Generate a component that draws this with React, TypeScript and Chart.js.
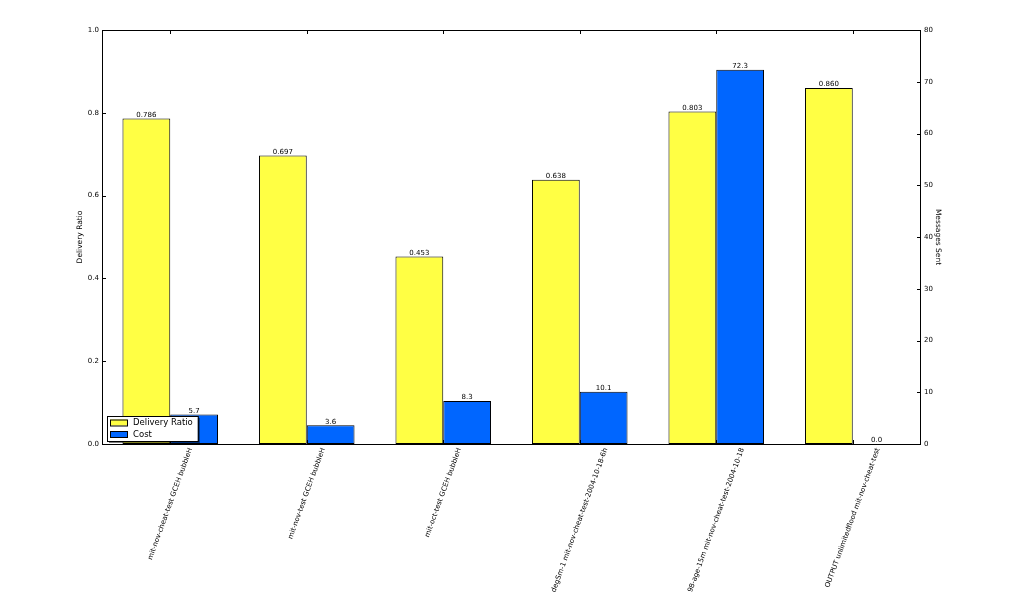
import React, { useEffect, useRef } from "react";
import { Chart, registerables } from "chart.js";

Chart.register(...registerables);

const categories = [
  "mit-nov-cheat-test GCEH bubbleH",
  "mit-nov-test GCEH bubbleH",
  "mit-oct-test GCEH bubbleH",
  "degSm-1 mit-nov-cheat-test-2004-10-18-6h",
  "98-age-15m mit-nov-cheat-test-2004-10-18",
  "OUTPUT unlimitedflood mit-nov-cheat-test",
];
const deliveryRatio = [0.786, 0.697, 0.453, 0.638, 0.803, 0.86];
const cost = [5.7, 3.6, 8.3, 10.1, 72.3, 0.0];
const seriesNames = ["Delivery Ratio", "Cost"];
const seriesColors = ["#ffff44", "#0066ff"];
const leftAxisTitle = "Delivery Ratio";
const rightAxisTitle = "Messages Sent";

const FONT = '"DejaVu Sans", sans-serif';

const decorPlugin = {
  id: "decor",
  afterDatasetsDraw(chart: any) {
    const ctx = chart.ctx;
    ctx.save();
    ctx.fillStyle = "#000";
    ctx.font = `7px ${FONT}`;
    ctx.textAlign = "center";
    ctx.textBaseline = "bottom";
    chart.data.datasets.forEach((ds: any, di: number) => {
      const meta = chart.getDatasetMeta(di);
      meta.data.forEach((el: any, i: number) => {
        const v = ds.data[i];
        const txt = di === 0 ? v.toFixed(3) : v.toFixed(1);
        ctx.fillText(txt, el.x, el.y);
      });
    });
    ctx.restore();
  },
  afterDraw(chart: any) {
    const ctx = chart.ctx;
    const ca = chart.chartArea;
    const xs = chart.scales.x;
    const ys = chart.scales.y;
    const y1 = chart.scales.y1;
    ctx.save();
    // frame
    ctx.strokeStyle = "#000";
    ctx.lineWidth = 1;
    ctx.strokeRect(ca.left + 0.5, ca.top + 0.5, ca.right - ca.left - 1, ca.bottom - ca.top);
    // ticks (inward)
    ctx.beginPath();
    ys.ticks.forEach((t: any) => {
      const p = Math.round(ys.getPixelForValue(t.value)) + 0.5;
      ctx.moveTo(ca.left, p);
      ctx.lineTo(ca.left + 4, p);
    });
    y1.ticks.forEach((t: any) => {
      const p = Math.round(y1.getPixelForValue(t.value)) + 0.5;
      ctx.moveTo(ca.right, p);
      ctx.lineTo(ca.right - 4, p);
    });
    categories.forEach((_, i) => {
      const p = Math.round(xs.getPixelForTick(i)) + 0.5;
      ctx.moveTo(p, ca.bottom);
      ctx.lineTo(p, ca.bottom - 4);
      ctx.moveTo(p, ca.top);
      ctx.lineTo(p, ca.top + 4);
    });
    ctx.stroke();

    // x tick labels rotated 70deg, rotated bbox centred on tick
    ctx.fillStyle = "#000";
    ctx.font = `7px ${FONT}`;
    ctx.textAlign = "center";
    ctx.textBaseline = "middle";
    const a = (70 * Math.PI) / 180;
    categories.forEach((lab, i) => {
      const x = xs.getPixelForTick(i);
      const L = ctx.measureText(lab).width;
      const h = 7;
      const bh = L * Math.sin(a) + h * Math.cos(a);
      const top = ca.bottom + 3;
      ctx.save();
      ctx.translate(x, top + bh / 2);
      ctx.rotate(-a);
      ctx.fillText(lab, 0, 0);
      ctx.restore();
    });

    // legend (lower left, with shadow)
    ctx.font = `8.5px ${FONT}`;
    const tw = Math.max(...seriesNames.map((n) => ctx.measureText(n).width));
    const bx = ca.left + 5;
    const bw = 26 + tw + 5;
    const bhh = 25;
    const by = ca.bottom - 3 - bhh;
    ctx.fillStyle = "rgba(0,0,0,0.5)";
    ctx.fillRect(bx + 2, by + 2, bw, bhh);
    ctx.fillStyle = "#fff";
    ctx.fillRect(bx, by, bw, bhh);
    ctx.strokeStyle = "#000";
    ctx.strokeRect(bx + 0.5, by + 0.5, bw, bhh);
    seriesNames.forEach((n, i) => {
      const cy = by + 6.5 + i * 11.5;
      ctx.fillStyle = seriesColors[i];
      ctx.fillRect(bx + 3, cy - 3, 17, 6);
      ctx.strokeStyle = "#000";
      ctx.strokeRect(bx + 3.5, cy - 2.5, 17, 6);
      ctx.fillStyle = "#000";
      ctx.textAlign = "left";
      ctx.textBaseline = "middle";
      ctx.fillText(n, bx + 26, cy + 0.5);
    });
    ctx.restore();
  },
};

export default function App() {
  const ref = useRef<HTMLCanvasElement | null>(null);
  useEffect(() => {
    document.body.style.margin = "0";
    const chart = new Chart(ref.current as HTMLCanvasElement, {
      type: "bar",
      data: {
        labels: categories,
        datasets: [
          {
            label: seriesNames[0],
            data: deliveryRatio,
            backgroundColor: seriesColors[0],
            borderColor: "#000",
            borderWidth: 1,
            borderSkipped: false,
            yAxisID: "y",
            categoryPercentage: 0.7,
            barPercentage: 1.0,
          },
          {
            label: seriesNames[1],
            data: cost,
            backgroundColor: seriesColors[1],
            borderColor: "#000",
            borderWidth: 1,
            borderSkipped: false,
            yAxisID: "y1",
            categoryPercentage: 0.7,
            barPercentage: 1.0,
          },
        ],
      },
      options: {
        responsive: false,
        animation: false,
        devicePixelRatio: 1,
        layout: { padding: { left: 72, right: 78, top: 30, bottom: 0 } },
        plugins: { legend: { display: false }, tooltip: { enabled: false } },
        scales: {
          x: {
            grid: { display: false, drawTicks: false },
            border: { display: false },
            ticks: { display: false },
            afterFit: (s: any) => {
              s.height = 149;
            },
          },
          y: {
            position: "left",
            min: 0,
            max: 1,
            grid: { display: false, drawTicks: false },
            border: { display: false },
            ticks: {
              stepSize: 0.2,
              padding: 3,
              color: "#000",
              font: { family: FONT, size: 7 },
              callback: (v: any) => Number(v).toFixed(1),
            },
            title: {
              display: true,
              text: leftAxisTitle,
              color: "#000",
              font: { family: FONT, size: 7.5 },
              padding: { top: 4, bottom: 4 },
            },
            afterFit: (s: any) => {
              s.width = 30;
            },
          },
          y1: {
            position: "right",
            min: 0,
            max: 80,
            grid: { display: false, drawTicks: false },
            border: { display: false },
            ticks: {
              stepSize: 10,
              padding: 3,
              color: "#000",
              font: { family: FONT, size: 7 },
              callback: (v: any) => String(Math.round(Number(v))),
            },
            title: {
              display: true,
              text: rightAxisTitle,
              color: "#000",
              font: { family: FONT, size: 7.5 },
              padding: { top: 4, bottom: 4 },
            },
            afterFit: (s: any) => {
              s.width = 25;
            },
          },
        },
      },
      plugins: [decorPlugin],
    });
    return () => chart.destroy();
  }, []);
  return (
    <div style={{ position: "absolute", left: 0, top: 0, width: 1024, height: 593 }}>
      <canvas ref={ref} width={1024} height={593} />
    </div>
  );
}
